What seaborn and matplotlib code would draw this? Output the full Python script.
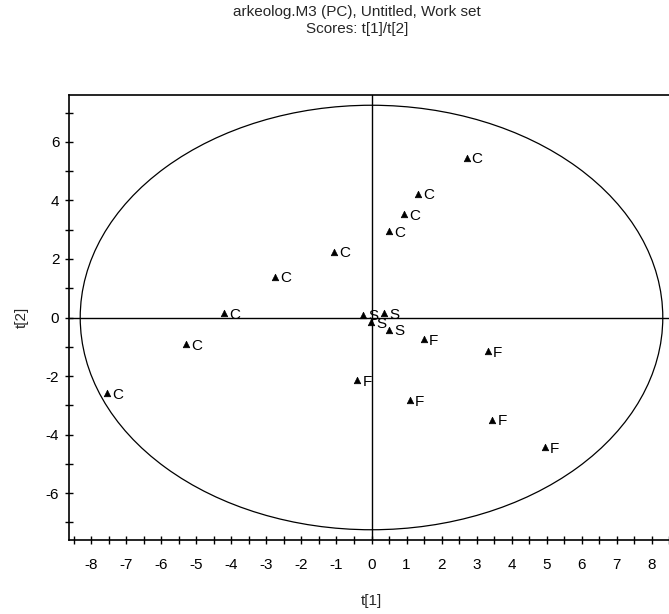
import numpy as np
import pandas as pd
import matplotlib
matplotlib.use("Agg")
import matplotlib.pyplot as plt
from matplotlib.patches import Ellipse
from matplotlib.ticker import MultipleLocator
import seaborn as sns

# ---- data ----
labels = ["C"] * 9 + ["F"] * 6 + ["S"] * 4
t1 = [2.72, 1.33, 0.93, 0.50, -1.07, -2.75, -4.21, -5.29, -7.54,
      3.32, 1.50, -0.40, 1.10, 3.45, 4.95,
      -0.24, -0.01, 0.36, 0.50]
t2 = [5.46, 4.23, 3.52, 2.94, 2.25, 1.40, 0.14, -0.92, -2.59,
      -1.16, -0.75, -2.15, -2.83, -3.50, -4.44,
      0.10, -0.17, 0.14, -0.41]
ellipse_a = 8.31
ellipse_b = 7.25
title_lines = ["arkeolog.M3 (PC), Untitled, Work set", "Scores: t[1]/t[2]"]

df = pd.DataFrame({"t[1]": t1, "t[2]": t2, "label": labels})

sns.set_style("white")
plt.rcParams["font.family"] = ["Liberation Sans", "DejaVu Sans"]
plt.rcParams["axes.unicode_minus"] = False

fig = plt.figure(figsize=(6.69, 6.14), dpi=100)
ax = fig.add_axes([69 / 669, 74 / 614, 605 / 669, 445 / 614])

sns.scatterplot(data=df, x="t[1]", y="t[2]", marker="^", color="black",
                s=22, edgecolor="black", linewidth=0.5, ax=ax, legend=False)

for x, y, lab in zip(t1, t2, labels):
    ax.annotate(lab, (x, y), xytext=(3.5, -1), textcoords="offset points",
                ha="left", va="center", fontsize=11, color="black")

ax.add_patch(Ellipse((0, 0), 2 * ellipse_a, 2 * ellipse_b, fill=False,
                     edgecolor="black", linewidth=0.9))
ax.axhline(0, color="black", linewidth=1.0)
ax.axvline(0, color="black", linewidth=1.0)

ax.set_xlim(-8.63, 8.63)
ax.set_ylim(-7.6, 7.6)
ax.xaxis.set_major_locator(MultipleLocator(1))
ax.xaxis.set_minor_locator(MultipleLocator(0.5))
ax.yaxis.set_major_locator(MultipleLocator(2))
ax.yaxis.set_minor_locator(MultipleLocator(1))
ax.tick_params(which="both", direction="inout", length=6, width=1.0,
               colors="black", labelsize=11, bottom=True, left=True)
ax.tick_params(axis="x", which="major", pad=10)
ax.tick_params(axis="y", which="major", pad=4)
ax.set_xticks(range(-8, 9))
ax.set_yticks([-6, -4, -2, 0, 2, 4, 6])
for sp in ax.spines.values():
    sp.set_color("black")
    sp.set_linewidth(1.2)

ax.set_xlabel("t[1]", fontsize=11, labelpad=16)
ax.set_ylabel("t[2]", fontsize=11, labelpad=12)

fig.text(357 / 669, 1 - 12 / 614, title_lines[0], ha="center", va="center", fontsize=11)
fig.text(357 / 669, 1 - 29 / 614, title_lines[1], ha="center", va="center", fontsize=11)

fig.savefig("out.png", dpi=100, facecolor="white")
